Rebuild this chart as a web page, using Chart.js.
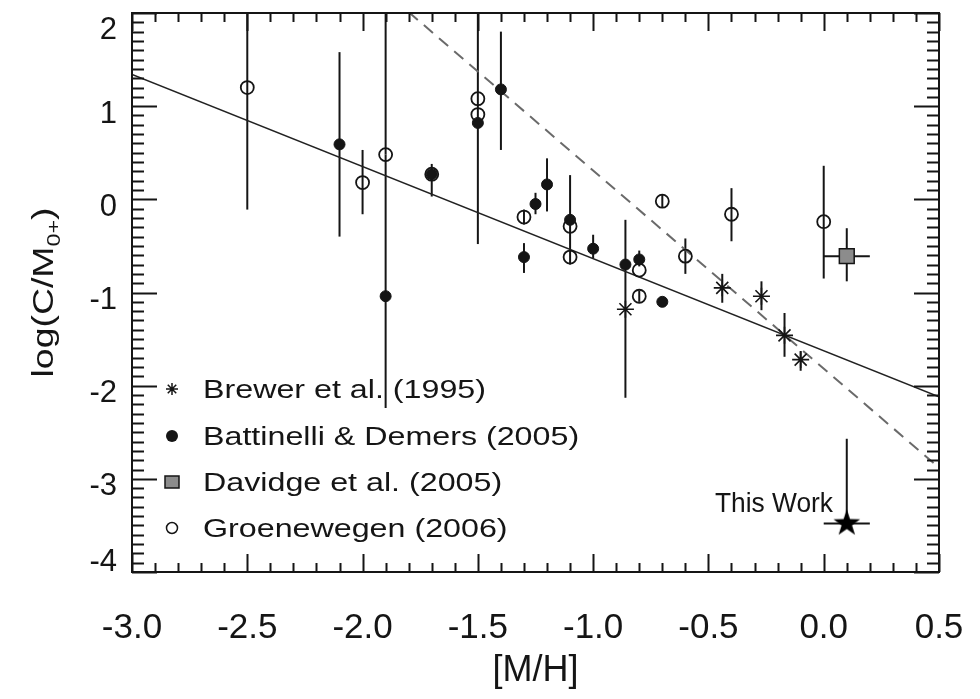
<!DOCTYPE html>
<html>
<head>
<meta charset="utf-8">
<script src="https://cdn.jsdelivr.net/npm/chart.js@4.4.1/dist/chart.umd.min.js"></script>
<style>
  html, body { margin: 0; padding: 0; background: #fff; }
  canvas { display: block; }
</style>
</head>
<body>
<canvas id="myChart" width="980" height="699"></canvas>
<script>
// Brewer et al. (1995)
const brewerX  = [-0.86, -0.44, -0.27, -0.17, -0.10];
const brewerY  = [-1.18, -0.95, -1.04, -1.46, -1.72];
const brewerLo = [-2.13, -1.11, -1.19, -1.69, -1.84];
const brewerHi = [-0.22, -0.80, -0.88, -1.22, -1.63];

// Battinelli & Demers (2005)
const battX  = [-2.10, -1.90, -1.70, -1.50, -1.40, -1.30, -1.25, -1.20, -1.10, -1.00, -0.86, -0.80, -0.70];
const battY  = [0.59, -1.04, 0.27, 0.82, 1.18, -0.62, -0.05, 0.16, -0.22, -0.53, -0.70, -0.645, -1.10];
const battLo = [-0.40, -2.24, 0.03, -0.48, 0.53, -0.79, -0.16, -0.13, -0.70, -0.63, -0.70, -0.72, -1.10];
const battHi = [1.58, 0.48, 0.38, 0.82, 1.80, -0.47, 0.07, 0.44, 0.26, -0.38, -0.70, -0.55, -1.10];

// Davidge et al. (2005)
const davX = [0.10], davY = [-0.61];
const davLo = [-0.88], davHi = [-0.31];
const davXLo = [0.00], davXHi = [0.20];

// Groenewegen (2006)
const groenX  = [-2.50, -2.00, -1.90, -1.70, -1.50, -1.50, -1.30, -1.10, -1.10, -0.80, -0.80, -0.70, -0.60, -0.40, 0.00];
const groenY  = [1.20, 0.18, 0.48, 0.27, 1.08, 0.91, -0.19, -0.29, -0.62, -0.76, -1.04, -0.02, -0.61, -0.16, -0.24];
const groenLo = [-0.11, -0.16, 0.48, 0.27, 0.82, 0.91, -0.27, -0.29, -0.62, -0.76, -1.10, -0.09, -0.80, -0.45, -0.85];
const groenHi = [2.50, 0.53, 2.50, 0.27, 2.50, 0.91, -0.11, -0.29, -0.62, -0.76, -0.98, 0.05, -0.42, 0.12, 0.36];

// This Work
const workX = [0.10], workY = [-3.48];
const workLo = [-3.48], workHi = [-2.57];
const workXLo = [0.00], workXHi = [0.20];

// fit lines
const fitX = [-3.0, 0.5], fitY = [1.34, -2.12];
const dashX = [-1.80, 0.50], dashY = [2.01, -2.88];

// ticks
const xTicks = [-3.0, -2.5, -2.0, -1.5, -1.0, -0.5, 0.0, 0.5];
const yTicks = [2, 1, 0, -1, -2, -3, -4];

const legendNames = ['Brewer et al. (1995)', 'Battinelli & Demers (2005)', 'Davidge et al. (2005)', 'Groenewegen (2006)'];

const FONT = '"Liberation Sans", Arial, Helvetica, sans-serif';
const INK = '#151515';

function pts(xs, ys) {
    return xs.map((x, i) => ({x: x, y: ys[i]}));
}

function makeStar(R, r) {
    const s = Math.ceil(R * 2) + 4;
    const c = document.createElement('canvas');
    c.width = s; c.height = s;
    const g = c.getContext('2d');
    g.beginPath();
    for (let k = 0; k < 10; k++) {
        const a = -Math.PI / 2 + k * Math.PI / 5;
        const rr = k % 2 ? r : R;
        g.lineTo(s / 2 + rr * Math.cos(a), s / 2 + rr * Math.sin(a));
    }
    g.closePath();
    g.fillStyle = '#000';
    g.fill();
    return c;
}

const errorBars = [
    {x: brewerX, lo: brewerLo, hi: brewerHi},
    {x: battX, lo: battLo, hi: battHi},
    {x: groenX, lo: groenLo, hi: groenHi},
    {x: davX, lo: davLo, hi: davHi},
    {x: workX, lo: workLo, hi: workHi}
];
const xErrorBars = [
    {y: davY, lo: davXLo, hi: davXHi},
    {y: workY, lo: workXLo, hi: workXHi}
];

function stretchText(ctx, text, x, y, width) {
    const w = ctx.measureText(text).width;
    ctx.save();
    ctx.translate(x, y);
    ctx.scale(width / w, 1);
    ctx.fillText(text, 0, 0);
    ctx.restore();
}

const decor = {
    id: 'decor',
    beforeDatasetsDraw(chart) {
        const ctx = chart.ctx, a = chart.chartArea;
        const sx = chart.scales.x, sy = chart.scales.y;
        ctx.save();
        ctx.beginPath();
        ctx.rect(a.left, a.top, a.right - a.left, a.bottom - a.top);
        ctx.clip();
        ctx.strokeStyle = INK;
        ctx.lineWidth = 2;
        errorBars.forEach(s => {
            s.x.forEach((x, i) => {
                if (s.lo[i] === s.hi[i]) return;
                const px = sx.getPixelForValue(x);
                ctx.beginPath();
                ctx.moveTo(px, sy.getPixelForValue(s.lo[i]));
                ctx.lineTo(px, sy.getPixelForValue(s.hi[i]));
                ctx.stroke();
            });
        });
        xErrorBars.forEach(s => {
            s.y.forEach((y, i) => {
                const py = sy.getPixelForValue(y);
                ctx.beginPath();
                ctx.moveTo(sx.getPixelForValue(s.lo[i]), py);
                ctx.lineTo(sx.getPixelForValue(s.hi[i]), py);
                ctx.stroke();
            });
        });
        ctx.restore();
    },
    afterDraw(chart) {
        const ctx = chart.ctx, a = chart.chartArea;
        const sx = chart.scales.x, sy = chart.scales.y;
        ctx.save();
        ctx.strokeStyle = INK;
        ctx.fillStyle = INK;
        ctx.lineWidth = 2;
        ctx.strokeRect(a.left, a.top, a.right - a.left, a.bottom - a.top);

        // inward ticks
        ctx.beginPath();
        for (let k = -30; k <= 5; k++) {
            const px = Math.round(sx.getPixelForValue(k / 10)) + 0.5;
            const len = k % 5 === 0 ? 18 : 9;
            ctx.moveTo(px, a.bottom); ctx.lineTo(px, a.bottom - len);
            ctx.moveTo(px, a.top); ctx.lineTo(px, a.top + len);
        }
        for (let k = -40; k <= 20; k++) {
            const py = Math.round(sy.getPixelForValue(k / 10)) + 0.5;
            const len = k % 10 === 0 ? 25 : 12;
            ctx.moveTo(a.left, py); ctx.lineTo(a.left + len, py);
            ctx.moveTo(a.right, py); ctx.lineTo(a.right - len, py);
        }
        ctx.stroke();

        // tick labels
        ctx.font = '35px ' + FONT;
        ctx.textAlign = 'center';
        ctx.textBaseline = 'alphabetic';
        xTicks.forEach(v => ctx.fillText(v.toFixed(1), sx.getPixelForValue(v), 638));
        ctx.font = '31px ' + FONT;
        ctx.textAlign = 'right';
        ctx.textBaseline = 'middle';
        yTicks.forEach(v => {
            const py = Math.min(562, Math.max(30, sy.getPixelForValue(v) + 8));
            ctx.fillText(String(v), 117, py);
        });

        // axis titles
        ctx.textAlign = 'center';
        ctx.textBaseline = 'alphabetic';
        ctx.font = '36px ' + FONT;
        ctx.fillText('[M/H]', (a.left + a.right) / 2, 681);

        ctx.save();
        ctx.translate(53, (a.top + a.bottom) / 2);
        ctx.rotate(-Math.PI / 2);
        const parts = [
            {t: 'log(C/M', size: 29, dy: 0},
            {t: '0+', size: 18, dy: 7},
            {t: ')', size: 29, dy: 0}
        ];
        let total = 0;
        parts.forEach(p => { ctx.font = p.size + 'px ' + FONT; p.w = ctx.measureText(p.t).width; total += p.w; });
        const k = 170 / total;
        ctx.scale(k, 1);
        let cx = -total / 2;
        ctx.textAlign = 'left';
        parts.forEach(p => {
            ctx.font = p.size + 'px ' + FONT;
            ctx.fillText(p.t, cx, p.dy);
            cx += p.w;
        });
        ctx.restore();

        // This Work label
        ctx.textAlign = 'left';
        ctx.font = '27px ' + FONT;
        stretchText(ctx, 'This Work', 715, 512, 118);

        // legend
        const rows = [389, 436, 482, 528];
        const symX = 172;
        ctx.font = '25px ' + FONT;
        const k2 = 283 / ctx.measureText(legendNames[0]).width;
        legendNames.forEach((name, i) => {
            ctx.save();
            ctx.translate(203, rows[i] + 9);
            ctx.scale(k2, 1);
            ctx.fillText(name, 0, 0);
            ctx.restore();
        });
        ctx.lineWidth = 1.5;
        // asterisk
        let y0 = rows[0];
        ctx.beginPath();
        for (let j = 0; j < 4; j++) {
            const ang = j * Math.PI / 4;
            ctx.moveTo(symX - 6 * Math.cos(ang), y0 - 6 * Math.sin(ang));
            ctx.lineTo(symX + 6 * Math.cos(ang), y0 + 6 * Math.sin(ang));
        }
        ctx.stroke();
        // filled circle
        ctx.beginPath();
        ctx.arc(symX, rows[1], 6, 0, Math.PI * 2);
        ctx.fill();
        // square
        ctx.fillStyle = '#8c8c8c';
        ctx.fillRect(symX - 7, rows[2] - 6, 14, 12);
        ctx.strokeRect(symX - 7, rows[2] - 6, 14, 12);
        // open circle
        ctx.beginPath();
        ctx.arc(symX, rows[3], 5.5, 0, Math.PI * 2);
        ctx.stroke();
        ctx.restore();
    }
};

const data = {
    datasets: [
        {
            label: 'This Work',
            data: pts(workX, workY),
            pointStyle: makeStar(14, 5.5),
            pointRadius: 12
        },
        {
            label: legendNames[1],
            data: pts(battX, battY),
            pointStyle: 'circle',
            pointRadius: 5.5,
            backgroundColor: INK,
            borderColor: INK,
            borderWidth: 1
        },
        {
            label: legendNames[2],
            data: pts(davX, davY),
            pointStyle: 'rect',
            pointRadius: 10.5,
            backgroundColor: '#8c8c8c',
            borderColor: INK,
            borderWidth: 1.5
        },
        {
            label: legendNames[3],
            data: pts(groenX, groenY),
            pointStyle: 'circle',
            pointRadius: 6.5,
            backgroundColor: 'rgba(0,0,0,0)',
            borderColor: INK,
            borderWidth: 1.8
        },
        {
            label: legendNames[0],
            data: pts(brewerX, brewerY),
            pointStyle: 'star',
            pointRadius: 8.5,
            borderColor: INK,
            borderWidth: 1.6
        },
        {
            label: 'fit',
            data: pts(fitX, fitY),
            showLine: true,
            pointRadius: 0,
            borderColor: '#222',
            borderWidth: 1.6
        },
        {
            label: 'dashed',
            data: pts(dashX, dashY),
            showLine: true,
            pointRadius: 0,
            borderColor: '#6a6a6a',
            borderWidth: 2,
            borderDash: [12, 8]
        }
    ]
};

const config = {
    type: 'scatter',
    data: data,
    options: {
        responsive: false,
        animation: false,
        devicePixelRatio: 1,
        layout: {
            padding: {left: 132, top: 11, right: 41, bottom: 127}
        },
        plugins: {
            legend: {display: false},
            tooltip: {enabled: false}
        },
        scales: {
            x: {type: 'linear', min: -3.0, max: 0.5, display: false},
            y: {type: 'linear', min: -4, max: 2, display: false}
        }
    },
    plugins: [decor]
};

let myChart = new Chart(document.getElementById('myChart'), config);
</script>
</body>
</html>
